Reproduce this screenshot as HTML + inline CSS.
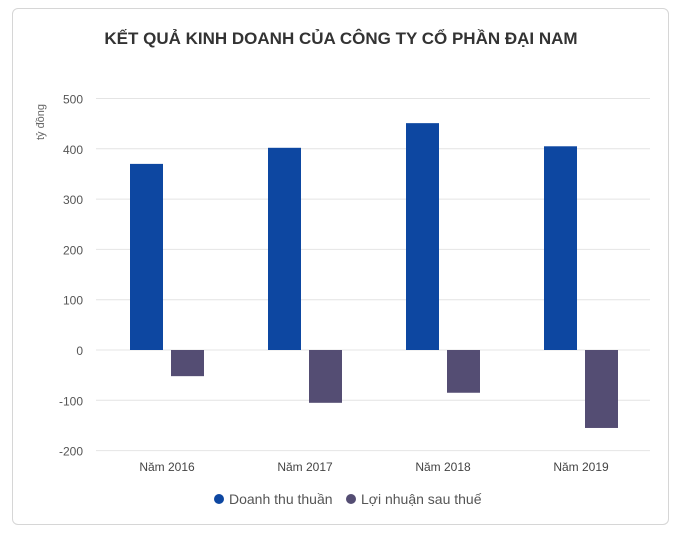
<!DOCTYPE html>
<html><head><meta charset="utf-8"><style>
body{margin:0;background:#fff;font-family:"Liberation Sans",sans-serif}
#card{position:absolute;left:12px;top:8px;width:657px;height:517px;border:1px solid #d6d6d6;border-radius:6px;box-sizing:border-box}
</style></head><body>
<div id="card"></div>
<svg id="chart" width="691" height="543" style="position:absolute;left:0;top:0">
<text x="341" y="44" text-anchor="middle" font-size="17" font-weight="bold" fill="#333">KẾT QUẢ KINH DOANH CỦA CÔNG TY CỔ PHẦN ĐẠI NAM</text>
<text transform="translate(44,122) rotate(-90)" text-anchor="middle" font-size="11" fill="#666">tỷ đồng</text>
<g id="grid"></g><g id="bars"></g><g id="xl"></g>
<g>
<circle cx="219" cy="499" r="5" fill="#0d47a1"/>
<text x="229" y="504" font-size="14" fill="#555">Doanh thu thuần</text>
<circle cx="351" cy="499" r="5" fill="#544d73"/>
<text x="361" y="504" font-size="14" fill="#555">Lợi nhuận sau thuế</text>
</g>
</svg>
<script>
const categories=["Năm 2016","Năm 2017","Năm 2018","Năm 2019"];
const revenue=[370,402,451,405];
const profit=[-52,-105,-85,-155];
const ticks=[500,400,300,200,100,0,-100,-200];
const ns="http://www.w3.org/2000/svg";
const y=v=>350-v*0.503;
const x0=98,step=138;
const cx=i=>x0+step*(i+0.5);
function mk(t,a,p){const e=document.createElementNS(ns,t);for(const k in a)e.setAttribute(k,a[k]);p.appendChild(e);return e;}
const g=document.getElementById('grid');
ticks.forEach(t=>{
 const l=mk('line',{x1:96,x2:650,y1:y(t),y2:y(t),stroke:'#e4e4e4','stroke-width':1},g);
 
 
 const tx=mk('text',{x:83,y:y(t)+5,'text-anchor':'end','font-size':12,fill:'#555'},g);
 tx.textContent=t;
 
 
});
const b=document.getElementById('bars');
categories.forEach((c,i)=>{
 const r=revenue[i],p=profit[i];
 const rb=mk('rect',{x:cx(i)-37,y:Math.min(y(r),y(0)),width:33,height:Math.abs(y(r)-y(0)),fill:'#0d47a1'},b);
 
 
 const pb=mk('rect',{x:cx(i)+4,y:Math.min(y(p),y(0)),width:33,height:Math.abs(y(p)-y(0)),fill:'#544d73'},b);
 
 
 const t=mk('text',{x:cx(i),y:471,'text-anchor':'middle','font-size':12,fill:'#444'},document.getElementById('xl'));
 t.textContent=c;
 
 
});
</script>
</body></html>
